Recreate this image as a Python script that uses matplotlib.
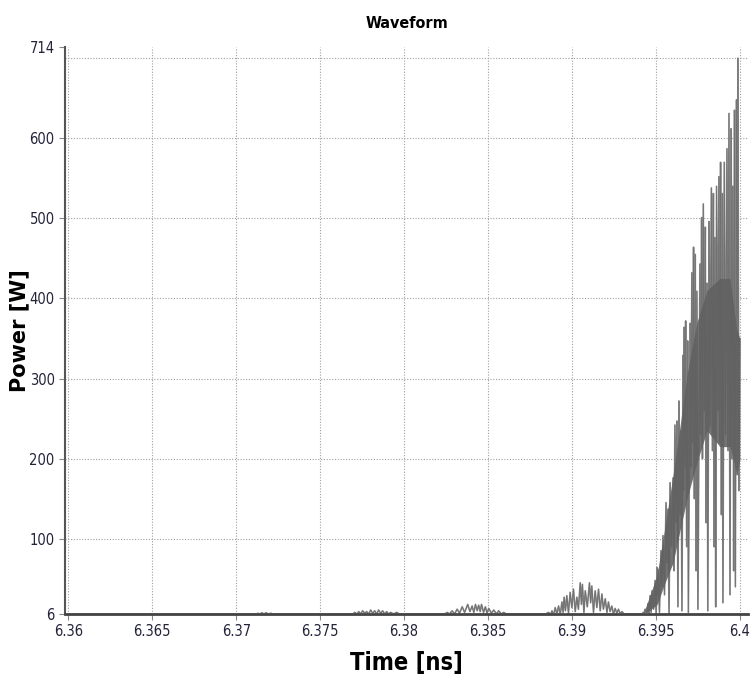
import numpy as np
import matplotlib
matplotlib.use("Agg")
import matplotlib.pyplot as plt

# waveform samples (time in ns, power in W)
# alternating peaks / troughs of each burst
t_b1 = [6.37123, 6.37129, 6.37141, 6.37153, 6.37165, 6.37177, 6.37195, 6.37207, 6.37218]
p_b1 = [6, 7, 6, 7.5, 6, 7.5, 6, 7, 6]

t_b2 = [6.37694, 6.37706, 6.37718, 6.37730, 6.37741, 6.37753, 6.37765, 6.37777, 6.37789,
        6.37801, 6.37813, 6.37825, 6.37837, 6.37848, 6.37860, 6.37872, 6.37884, 6.37896,
        6.37908, 6.37920, 6.37938, 6.37955, 6.37973]
p_b2 = [6, 8, 6, 9, 6, 10, 7, 9, 6, 11, 7, 10, 6, 11, 7, 10, 6, 9, 6, 8, 6, 8, 6]

t_b3 = [6.38241, 6.38257, 6.38270, 6.38286, 6.38300, 6.38316, 6.38330, 6.38346, 6.38360,
        6.38379, 6.38392, 6.38405, 6.38415, 6.38425, 6.38435, 6.38444, 6.38453, 6.38461,
        6.38473, 6.38484, 6.38494, 6.38504, 6.38520, 6.38534, 6.38550, 6.38563, 6.38579,
        6.38593, 6.38609]
p_b3 = [6, 8, 6, 10, 6, 12, 7, 15, 8, 18, 9, 16, 8, 18, 10, 17, 9, 18, 8, 15, 7, 13, 7,
        11, 6, 10, 6, 8, 6]

t_b4 = [6.38841, 6.38861, 6.38871, 6.38881, 6.38890, 6.38900, 6.38910, 6.38920, 6.38930,
        6.38940, 6.38947, 6.38953, 6.38961, 6.38969, 6.38979, 6.38989, 6.38999, 6.39009,
        6.39019, 6.39029, 6.39038, 6.39049, 6.39056, 6.39062, 6.39071, 6.39079, 6.39091,
        6.39104, 6.39111, 6.39118, 6.39128, 6.39138, 6.39148, 6.39158, 6.39168, 6.39178,
        6.39187, 6.39198, 6.39208, 6.39217, 6.39227, 6.39237, 6.39247, 6.39257, 6.39267,
        6.39277, 6.39287, 6.39297, 6.39311]
p_b4 = [6, 8, 5, 10, 4, 14, 6, 16, 5, 21, 8, 27, 10, 29, 7, 33, 14, 37, 9, 27, 12, 45, 18,
        43, 8, 35, 15, 45, 20, 41, 8, 35, 14, 37, 10, 31, 12, 25, 8, 21, 9, 16, 6, 13, 7,
        12, 6, 9, 6]

t_b5 = [6.39406, 6.39418, 6.39424, 6.39429, 6.39435, 6.39444, 6.39453, 6.39459, 6.39465,
        6.39471, 6.39477, 6.39486, 6.39495, 6.39501, 6.39507, 6.39510, 6.39512, 6.39521,
        6.39530, 6.39536, 6.39542, 6.39551, 6.39560, 6.39566, 6.39572, 6.39578, 6.39584,
        6.39593, 6.39602, 6.39607, 6.39613, 6.39619, 6.39625, 6.39631, 6.39637, 6.39643,
        6.39649, 6.39655, 6.39661, 6.39664, 6.39668, 6.39673, 6.39677, 6.39683, 6.39689,
        6.39693, 6.39704, 6.39708, 6.39714, 6.39719, 6.39724, 6.39729, 6.39734, 6.39739,
        6.39744, 6.39750, 6.39762, 6.39767, 6.39772, 6.39777, 6.39782, 6.39788, 6.39794,
        6.39798, 6.39804, 6.39809, 6.39816, 6.39822, 6.39830, 6.39836, 6.39842, 6.39846,
        6.39851, 6.39856, 6.39861, 6.39869, 6.39875, 6.39880, 6.39885, 6.39890, 6.39895,
        6.39899, 6.39907, 6.39914, 6.39923, 6.39929, 6.39935, 6.39941, 6.39948, 6.39952,
        6.39958, 6.39963, 6.39968, 6.39973, 6.39980, 6.39984, 6.39988, 6.39994, 6.40000]
p_b5 = [6, 6, 8, 6, 12, 6, 19, 6, 29, 8, 35, 12, 48, 6, 64, 30, 62, 8, 85, 40, 104, 30,
        145, 70, 137, 6, 170, 90, 176, 60, 242, 120, 247, 15, 272, 130, 235, 10, 329, 160,
        364, 190, 372, 90, 347, 8, 369, 190, 432, 220, 464, 150, 455, 60, 409, 12, 443, 230,
        501, 200, 518, 260, 489, 120, 419, 10, 496, 240, 538, 210, 531, 90, 476, 15, 540,
        260, 552, 220, 570, 130, 531, 20, 570, 230, 587, 210, 631, 30, 612, 200, 540, 60,
        635, 40, 648, 180, 700, 160, 350]

# dense (unresolved) part of the last burst: lower / upper edge of the dark band
t_band = [6.39435, 6.39507, 6.39554, 6.39602, 6.39643, 6.39685, 6.39744, 6.39804,
          6.39881, 6.39941, 6.39982, 6.40000]
lo_band = [6, 18, 45, 70, 110, 150, 195, 235, 215, 215, 180, 200]
hi_band = [12, 55, 115, 180, 240, 305, 370, 410, 425, 425, 360, 350]

x_ticks = [6.36, 6.365, 6.37, 6.375, 6.38, 6.385, 6.39, 6.395, 6.4]
x_labels = ["6.36", "6.365", "6.37", "6.375", "6.38", "6.385", "6.39", "6.395", "6.4"]
y_ticks = [6, 100, 200, 300, 400, 500, 600, 714]
y_grid = [100, 200, 300, 400, 500, 600, 700]

narrow = ["Liberation Sans Narrow", "DejaVu Sans"]

t = [6.36] + t_b1 + t_b2 + t_b3 + t_b4 + t_b5
p = [6] + p_b1 + p_b2 + p_b3 + p_b4 + p_b5

fig = plt.figure(figsize=(7.53, 6.82), dpi=100)
ax = fig.add_axes([0.0863, 0.0997, 0.907, 0.8314])

for g in x_ticks:
    ax.axvline(g, color="#a0a0a0", ls=(0, (1, 1.5)), lw=0.8, zorder=1)
for g in y_grid:
    ax.axhline(g, color="#a0a0a0", ls=(0, (1, 1.5)), lw=0.8, zorder=1)

ax.plot(t, p, color="#8c8c8c", lw=1.2, zorder=2)
ax.fill_between(t_band, lo_band, hi_band, color="#646464", alpha=0.9, lw=0, zorder=3)
ax.plot(t, p, color="#5e5e5e", lw=0.6, alpha=0.6, zorder=4)

ax.set_xlim(6.3598, 6.40048)
ax.set_ylim(6, 714)
ax.set_xticks(x_ticks)
ax.set_xticklabels(x_labels, family=narrow, stretch="condensed", fontsize=10.5, color="#23233a")
ax.set_yticks(y_ticks)
ax.set_yticklabels([str(v) for v in y_ticks], family=narrow, stretch="condensed",
                   fontsize=10.5, color="#23233a")
ax.tick_params(length=4, width=0.8, color="#888888")

for s in ["top", "right"]:
    ax.spines[s].set_visible(False)
ax.spines["left"].set_color("#555555")
ax.spines["left"].set_linewidth(1.5)
ax.spines["bottom"].set_color("#444444")
ax.spines["bottom"].set_linewidth(2)

ax.set_title("Waveform", fontsize=11.5, fontweight="bold", family=narrow,
             stretch="condensed", pad=14)
ax.set_xlabel("Time [ns]", fontsize=17, fontweight="bold", family=narrow,
              stretch="condensed", labelpad=8)
ax.set_ylabel("Power [W]", fontsize=15, fontweight="bold")
ax.yaxis.set_label_coords(-0.052, 0.5)

fig.savefig("out.png", dpi=100)
